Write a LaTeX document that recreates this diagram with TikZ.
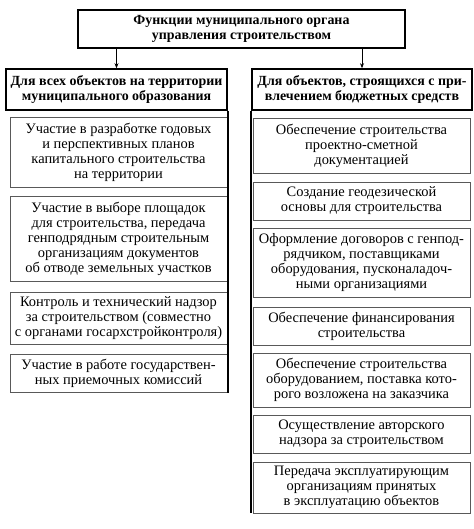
\documentclass[tikz,border=0pt]{standalone}
\usepackage{fontspec}
\setmainfont{Liberation Serif}
\usetikzlibrary{arrows.meta}
\begin{document}
\begin{tikzpicture}[x=1bp,y=-1bp,
  txt/.style={font=\fontsize{14.5}{15}\selectfont, align=center, inner sep=0pt},
  topbox/.style={txt, draw=black, line width=1.6bp, font=\bfseries\fontsize{14}{15}\selectfont},
  itembox/.style={txt, draw=black!65, line width=0.8bp, minimum width=217bp},
  spine/.style={draw=black, line width=1.6bp},
  arr/.style={draw=black, line width=0.7bp, -{Stealth[length=5bp,width=4bp]}}
]
\useasboundingbox (0,0) rectangle (474,529);
% top
\node[topbox, minimum width=327bp, minimum height=38bp] (top) at (241.5,29)
  {Функции муниципального органа\\управления строительством};
% headers
\node[topbox, minimum width=221bp, minimum height=41bp] (lh) at (116.5,89.5)
  {Для всех объектов на территории\\муниципального образования};
\node[topbox, minimum width=220bp, minimum height=41bp] (rh) at (362,89.5)
  {Для объектов, строящихся с при-\\влечением бюджетных средств};
% left items
\node[itembox, minimum height=70bp] (l1) at (118.5,152)
  {Участие в разработке годовых\\и перспективных планов\\капитального строительства\\на территории};
\node[itembox, minimum height=85bp] (l2) at (118.5,239)
  {Участие в выборе площадок\\для строительства, передача\\генподрядным строительным\\организациям документов\\об отводе земельных участков};
\node[itembox, minimum height=52bp] (l3) at (118.5,318)
  {Контроль и технический надзор\\за строительством (совместно\\с органами госархстройконтроля)};
\node[itembox, minimum height=38bp] (l4) at (118.5,373.5)
  {Участие в работе государствен-\\ных приемочных комиссий};
% right items
\node[itembox, minimum height=55bp] (r1) at (361.5,145.5)
  {Обеспечение строительства\\проектно-сметной\\документацией};
\node[itembox, minimum height=38bp] (r2) at (361.5,201)
  {Создание геодезической\\основы для строительства};
\node[itembox, minimum height=69bp] (r3) at (361.5,262.5)
  {Оформление договоров с генпод-\\рядчиком, поставщиками\\оборудования, пусконаладоч-\\ными организациями};
\node[itembox, minimum height=38bp] (r4) at (361.5,326)
  {Обеспечение финансирования\\строительства};
\node[itembox, minimum height=54bp] (r5) at (361.5,380)
  {Обеспечение строительства\\оборудованием, поставка кото-\\рого возложена на заказчика};
\node[itembox, minimum height=38bp] (r6) at (361.5,434)
  {Осуществление авторского\\надзора за строительством};
\node[itembox, minimum height=51bp] (r7) at (361.5,487.5)
  {Передача эксплуатирующим\\организациям принятых\\в эксплуатацию объектов};
% spines
\draw[spine] (lh.south east) -- (lh.south east |- l4.south);
\draw[spine] (rh.south west) -- (rh.south west |- r7.south);
% arrows
\draw[arr] (top.south -| lh.north) -- (lh.north);
\draw[arr] (top.south -| rh.north) -- (rh.north);
\end{tikzpicture}
\end{document}
